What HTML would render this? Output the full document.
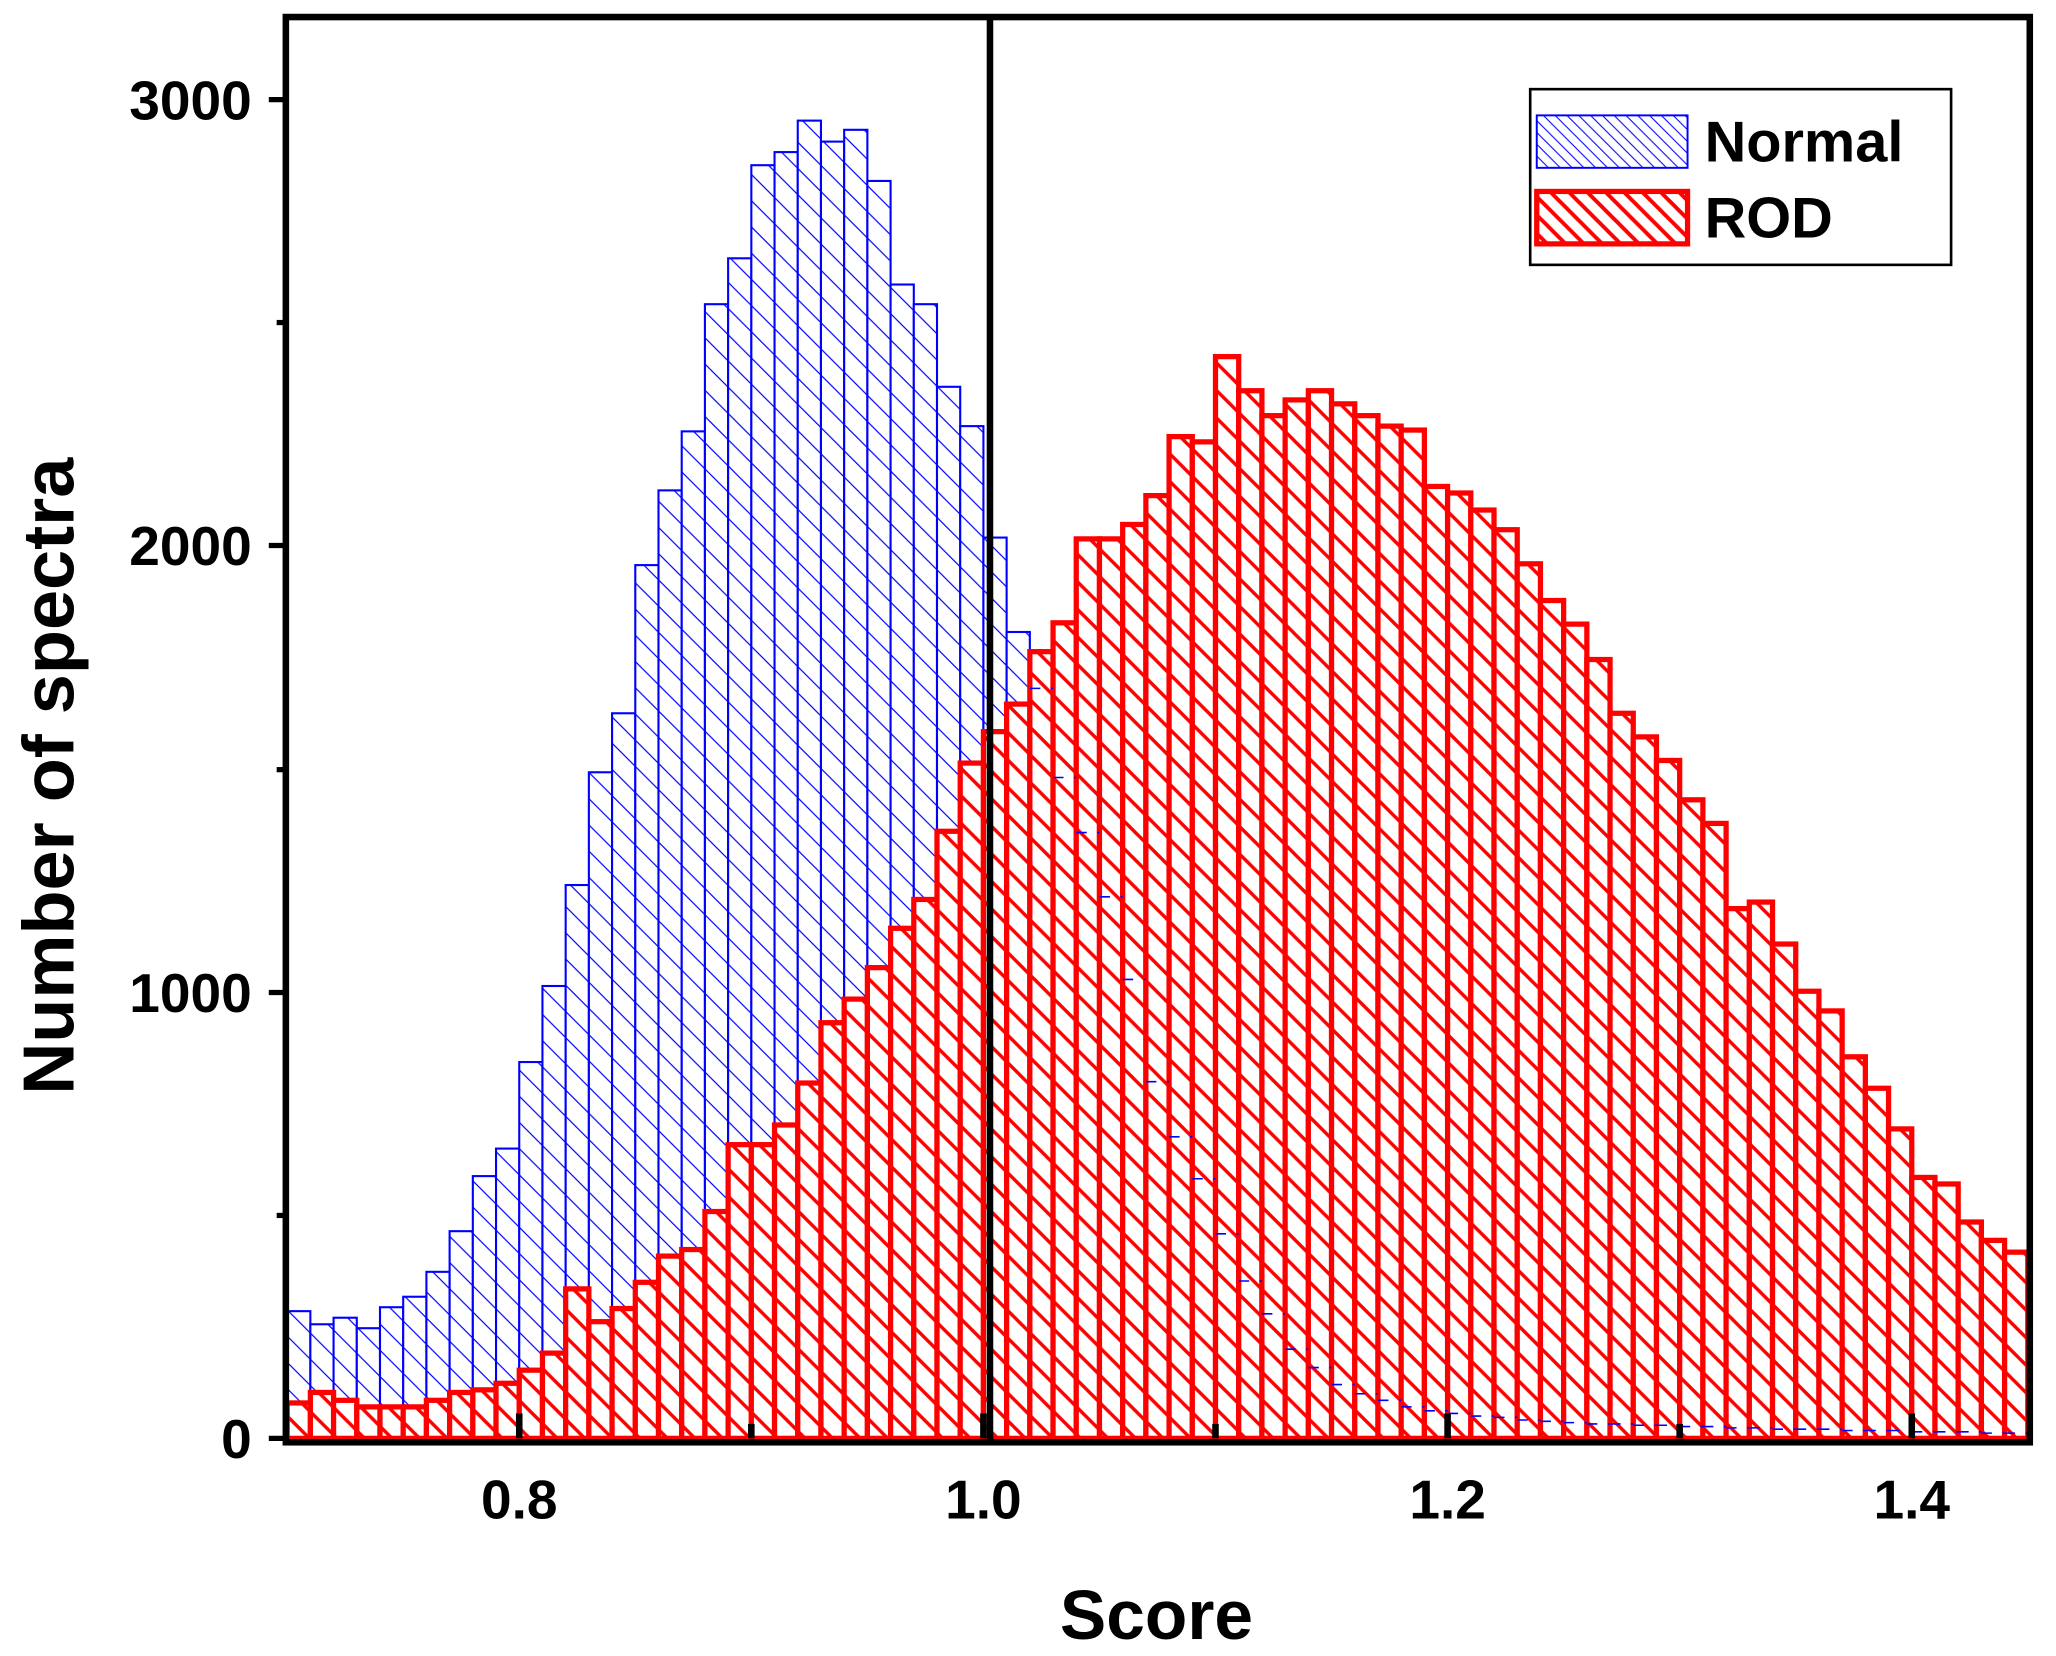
<!DOCTYPE html>
<html><head><meta charset="utf-8"><style>
html,body{margin:0;padding:0;background:#fff;}
svg{display:block;}
text{font-family:"Liberation Sans",Arial,sans-serif;font-weight:bold;fill:#000;}
</style></head><body>
<svg id="s" width="2056" height="1656" viewBox="0 0 1568 1263" preserveAspectRatio="none" xmlns="http://www.w3.org/2000/svg">
<defs>
<pattern id="bh" patternUnits="userSpaceOnUse" width="20" height="20">
<rect width="20" height="20" fill="#fff"/>
<path d="M-5,-5 L25,25 M-5,15 L5,25 M15,-5 L25,5" stroke="#0000ff" stroke-width="0.9"/>
</pattern>
<pattern id="bhl" patternUnits="userSpaceOnUse" width="9" height="9">
<rect width="9" height="9" fill="#fff"/>
<path d="M-3,-3 L12,12 M-3,6 L3,12 M6,-3 L12,3" stroke="#0000ff" stroke-width="0.8"/>
</pattern>
<pattern id="rh" patternUnits="userSpaceOnUse" width="21" height="21">
<rect width="21" height="21" fill="#fff"/>
<path d="M-5,-5 L26,26 M-5,16 L5,26 M16,-5 L26,5" stroke="#ff0000" stroke-width="2.6"/>
</pattern>
<pattern id="rhl" patternUnits="userSpaceOnUse" width="14" height="14">
<rect width="14" height="14" fill="#fff"/>
<path d="M-4,-4 L18,18 M-4,10 L4,18 M10,-4 L18,4" stroke="#ff0000" stroke-width="3"/>
</pattern>
</defs>
<g id="blue"></g>
<g id="red"></g>
<g id="btop"></g>
<line x1="755" y1="13" x2="755" y2="1100" stroke="#000" stroke-width="5"/>
<rect x="218" y="13" width="1330" height="1087" fill="none" stroke="#000" stroke-width="5"/>
<g id="ticks" stroke="#000"></g>
<g font-size="42" text-anchor="end">
<text x="192" y="91">3000</text>
<text x="192" y="431">2000</text>
<text x="192" y="772">1000</text>
<text x="192" y="1112">0</text>
</g>
<g font-size="42" text-anchor="middle">
<text x="396" y="1158">0.8</text>
<text x="750" y="1158">1.0</text>
<text x="1104" y="1158">1.2</text>
<text x="1458" y="1158">1.4</text>
</g>
<text x="882" y="1250" font-size="53" text-anchor="middle">Score</text>
<text transform="translate(56,592) rotate(-90)" font-size="55" text-anchor="middle">Number of spectra</text>
<rect x="1167" y="68" width="321" height="134" fill="#fff" stroke="#000" stroke-width="2"/>
<rect x="1172" y="88" width="115" height="40" fill="url(#bhl)" stroke="#0000ff" stroke-width="1.5"/>
<rect x="1172" y="146" width="115" height="40" fill="url(#rhl)" stroke="#ff0000" stroke-width="4"/>
<text x="1300" y="123" font-size="44">Normal</text>
<text x="1300" y="181" font-size="44">ROD</text>
</svg>
<script>
var NS="http://www.w3.org/2000/svg";
var base=1097, x0=219, w=17.7;
var blue=[1000,1010,1005,1013,997,989,970,939,897,876,810,752,675,589,544,431,374,329,232,197,126,116,92,108,99,138,217,232,295,325,410,482,525,593,635,684,747,825,867,899,941,977,1002,1029,1043,1056,1063,1068,1073,1076,1078,1080,1081,1083,1084,1085,1086,1086,1087,1087,1088,1088,1089,1089,1090,1090,1090,1091,1091,1091,1092,1092,1092,1093,1093];
var red=[1070,1062,1068,1073,1073,1073,1068,1062,1060,1055,1045,1032,983,1008,998,978,958,953,924,873,873,858,826,780,762,738,708,686,634,582,558,537,497,475,411,411,400,378,333,337,272,298,317,305,298,308,317,325,328,371,376,389,404,430,458,476,503,544,562,580,610,628,693,688,720,756,771,806,830,861,898,903,932,946,955];
function el(t,a,p){var e=document.createElementNS(NS,t);for(var k in a)e.setAttribute(k,a[k]);document.getElementById(p).appendChild(e);}
for(var i=0;i<blue.length;i++){var x=x0+i*w;el("rect",{x:x,y:blue[i],width:w,height:base-blue[i],fill:"url(#bh)",stroke:"#0000ff","stroke-width":1.6},"blue");}
for(var i=0;i<red.length;i++){var x=x0+i*w;el("rect",{x:x,y:red[i],width:w,height:base-red[i],fill:"url(#rh)",stroke:"#ff0000","stroke-width":4},"red");}
for(var i=0;i<blue.length;i++){var x=x0+i*w;if(blue[i]>red[i])el("line",{x1:x,y1:blue[i],x2:x+w,y2:blue[i],stroke:"#0000ff","stroke-width":1.2,"stroke-dasharray":"8 8"},"btop");}
[76,416,757,1097].forEach(function(y){el("line",{x1:205,y1:y,x2:218,y2:y,"stroke-width":4},"ticks");});
[246,587,927].forEach(function(y){el("line",{x1:211,y1:y,x2:218,y2:y,"stroke-width":4},"ticks");});
for(var v=0;v<8;v++){var x=396+v*177;el("line",{x1:x,y1:1097,x2:x,y2:(v%2==0?1078:1086),"stroke-width":5},"ticks");}
</script>
</body></html>
